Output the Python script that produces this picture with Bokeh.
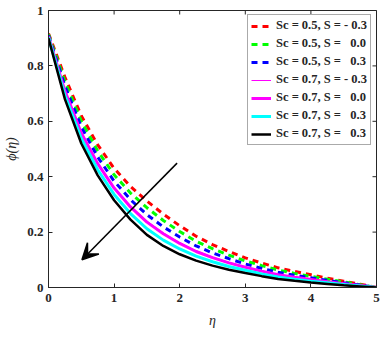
import math
from bokeh.plotting import figure
from bokeh.models import Range1d, FixedTicker, Arrow, VeeHead, Legend, LegendItem
from bokeh.embed import file_html
from bokeh.resources import INLINE

eta = [0, 0.25, 0.5, 0.75, 1, 1.25, 1.5, 1.75, 2, 2.25, 2.5, 2.75, 3, 3.25, 3.5, 3.75, 4, 4.25, 4.5, 4.75, 5]
phi_sc05_sm03 = [.917, .760, .620, .515, .430, .365, .312, .265, .223, .185, .155, .130, .107, .088, .071, .058, .046, .034, .023, .012, 0]
phi_sc05_s00 = [.914, .744, .600, .493, .407, .341, .288, .242, .202, .167, .140, .117, .096, .079, .063, .051, .040, .030, .020, .010, 0]
phi_sc05_s03 = [.910, .728, .580, .471, .384, .317, .263, .219, .182, .150, .125, .104, .085, .069, .055, .044, .035, .026, .017, .009, 0]
phi_sc07_sm03 = [.907, .713, .561, .450, .362, .294, .240, .197, .162, .133, .110, .091, .074, .060, .047, .038, .030, .022, .014, .007, 0]
phi_sc07_s00 = [.906, .710, .558, .447, .359, .291, .236, .194, .159, .130, .108, .089, .073, .059, .046, .037, .029, .021, .014, .007, 0]
phi_sc07_s03 = [.903, .694, .538, .425, .336, .267, .212, .171, .139, .113, .093, .076, .062, .049, .038, .030, .023, .017, .011, .005, 0]
phi_sc07_s03b = [.900, .680, .520, .405, .315, .245, .190, .150, .120, .097, .079, .064, .052, .041, .031, .024, .018, .013, .008, .004, 0]

NB = "\u00a0"
labels = ["Sc = 0.5, S = - 0.3", "Sc = 0.5, S =" + NB * 3 + "0.0", "Sc = 0.5, S =" + NB * 3 + "0.3",
          "Sc = 0.7, S = - 0.3", "Sc = 0.7, S =" + NB * 3 + "0.0", "Sc = 0.7, S =" + NB * 3 + "0.3",
          "Sc = 0.7, S =" + NB * 3 + "0.3"]

x_ticks = [0, 1, 2, 3, 4, 5]
y_ticks = [0, 0.2, 0.4, 0.6, 0.8, 1]
arrow_start = (1.96, 0.449)
arrow_end = (0.51, 0.10)

serif = "Liberation Serif"
axis_col = "#262626"

p = figure(width=386, height=337, output_backend="svg", toolbar_location=None,
           x_range=Range1d(0, 5), y_range=Range1d(0, 1),
           min_border_left=48, min_border_right=10, min_border_top=10, min_border_bottom=50)
p.xgrid.visible = False
p.ygrid.visible = False
p.outline_line_color = axis_col
p.outline_line_alpha = 1
p.background_fill_color = "white"

series = [
    (phi_sc05_sm03, "#ff0000", 3, "6 5"),
    (phi_sc05_s00, "#00ff00", 3, "6 5"),
    (phi_sc05_s03, "#0000ff", 3, "6 5"),
    (phi_sc07_sm03, "#ff00ff", 1, "solid"),
    (phi_sc07_s00, "#ff00ff", 3, "solid"),
    (phi_sc07_s03, "#00ffff", 3, "solid"),
    (phi_sc07_s03b, "#000000", 2.5, "solid"),
]
items = []
for (ys, col, w, dash), lab in zip(series, labels):
    r = p.line(eta, ys, line_color=col, line_width=w, line_dash=dash)
    items.append(LegendItem(label=lab, renderers=[r]))

# tick marks on the top and right edges of the box (MATLAB style, inward)
p.scatter(x_ticks, [1] * len(x_ticks), marker="dash", size=8, angle=math.pi / 2,
          line_color=axis_col, line_width=1)
p.scatter([5] * len(y_ticks), y_ticks, marker="dash", size=8,
          line_color=axis_col, line_width=1)

for ax in [p.xaxis[0], p.yaxis[0]]:
    ax.major_tick_in = 4
    ax.major_tick_out = 0
    ax.minor_tick_line_color = None
    ax.axis_line_color = axis_col
    ax.major_tick_line_color = axis_col
    ax.major_label_text_font = serif
    ax.major_label_text_font_style = "bold"
    ax.major_label_text_font_size = "13px"
    ax.major_label_text_color = "#262626"
    ax.axis_label_text_font = serif
    ax.axis_label_text_font_style = "italic"
    ax.axis_label_text_font_size = "14px"
    ax.axis_label_text_color = "#262626"

p.xaxis[0].ticker = FixedTicker(ticks=x_ticks)
p.yaxis[0].ticker = FixedTicker(ticks=y_ticks)
p.yaxis[0].major_label_overrides = {0: "0", 1: "1"}
p.xaxis[0].axis_label = "η"
p.yaxis[0].axis_label = "ϕ(η)"
p.xaxis[0].major_label_standoff = 6
p.xaxis[0].axis_label_standoff = 8
p.yaxis[0].major_label_standoff = 5
p.yaxis[0].axis_label_standoff = 5

p.add_layout(Arrow(end=VeeHead(size=16, fill_color="black", line_color="black", line_width=1.5),
                   x_start=arrow_start[0], y_start=arrow_start[1],
                   x_end=arrow_end[0], y_end=arrow_end[1],
                   line_color="black", line_width=1.5))

legend = Legend(items=items, location=(199, 142))
legend.label_text_font = serif
legend.label_text_font_style = "bold"
legend.label_text_font_size = "12.5px"
legend.label_text_color = "#262626"
legend.border_line_color = "#555555"
legend.border_line_width = 1
legend.glyph_width = 20
legend.glyph_height = 14
legend.label_height = 14
legend.spacing = 3
legend.padding = 3
legend.margin = 0
legend.label_standoff = 5
legend.background_fill_alpha = 1
p.add_layout(legend, "center")

open("out.html", "w").write(file_html(p, INLINE))
